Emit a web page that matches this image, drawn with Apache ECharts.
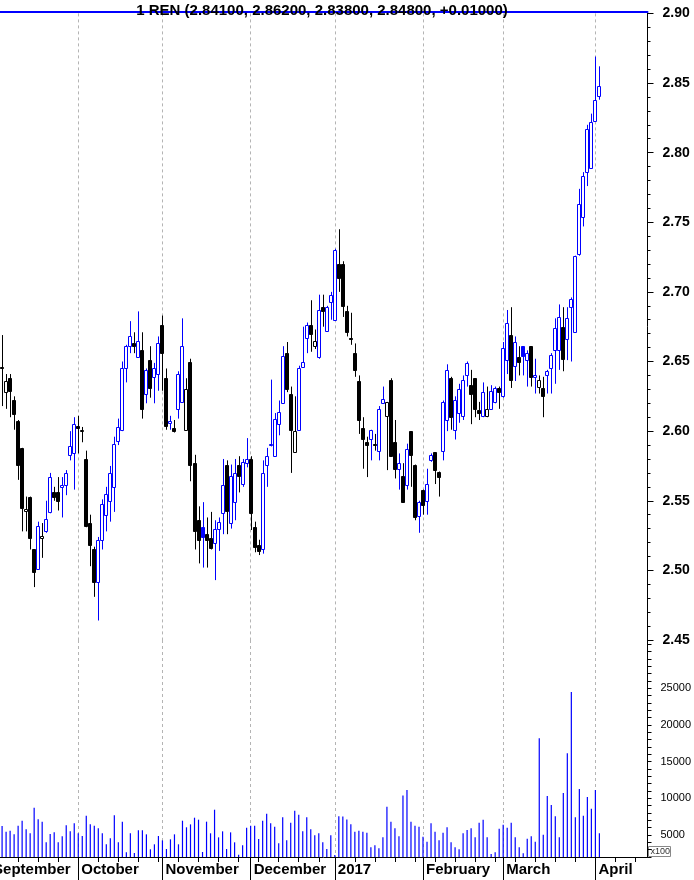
<!DOCTYPE html>
<html><head><meta charset="utf-8">
<script src="https://cdn.jsdelivr.net/npm/echarts@6/dist/echarts.min.js"></script>
<style>html,body{margin:0;padding:0;background:#fff}#c{width:694px;height:880px}</style>
</head><body><div id="c"></div>
<script>
// trading days per month (categories), incl. projected blank days in April
const sepDays=[1,2,5,6,7,8,9,12,13,14,15,16,19,20,21,22,23,26,27,28,29,30];
const octDays=[3,4,5,6,7,10,11,12,13,14,17,18,19,20,21,24,25,26,27,28,31];
const novDays=[1,2,3,4,7,8,9,10,11,14,15,16,17,18,21,22,23,24,25,28,29,30];
const decDays=[1,2,5,6,7,8,9,12,13,14,15,16,19,20,21,22,23,27,28,29,30];
const janDays=[2,3,4,5,6,9,10,11,12,13,16,17,18,19,20,23,24,25,26,27,30,31];
const febDays=[1,2,3,6,7,8,9,10,13,14,15,16,17,20,21,22,23,24,27,28];
const marDays=[1,2,3,6,7,8,9,10,13,14,15,16,17,20,21,22,23,24,27,28,29,30,31];
const aprDays=[3,4,5,6,7,10,11,12,13,14,17,18,19,20];
const monthLabels=['September','October','November','December','2017','February','March','April'];

const open=[
2.640,2.650,2.648,2.646,2.628,2.638,2.622,2.607,2.588,2.543,
2.553,2.515,2.501,2.523,2.528,2.542,2.556,2.556,2.560,2.561,
2.583,2.584,2.604,2.600,2.580,2.534,2.515,2.492,2.522,2.540,
2.550,2.560,2.593,2.601,2.645,2.661,2.663,2.653,2.658,2.627,
2.651,2.639,2.641,2.676,2.638,2.606,2.602,2.616,2.621,2.601,
2.650,2.577,2.536,2.531,2.526,2.523,2.520,2.530,2.541,2.576,
2.534,2.549,2.576,2.562,2.577,2.580,2.531,2.518,2.515,2.576,
2.590,2.582,2.605,2.620,2.656,2.627,2.585,2.601,2.646,2.667,
2.676,2.661,2.653,2.689,2.672,2.693,2.680,2.720,2.720,2.686,
2.667,2.656,2.636,2.602,2.592,2.594,2.591,2.586,2.620,2.611,
2.637,2.592,2.573,2.568,2.561,2.600,2.576,2.539,2.558,2.550,
2.579,2.585,2.571,2.586,2.608,2.638,2.601,2.613,2.611,2.640,
2.633,2.638,2.615,2.611,2.611,2.616,2.621,2.631,2.625,2.651,
2.669,2.647,2.653,2.661,2.651,2.661,2.639,2.632,2.631,2.640,
2.645,2.658,2.658,2.675,2.666,2.689,2.671,2.727,2.754,2.786,
2.789,2.823,2.841];
const high=[
2.655,2.660,2.668,2.669,2.641,2.641,2.625,2.608,2.588,2.553,
2.553,2.515,2.535,2.534,2.550,2.570,2.560,2.567,2.567,2.572,
2.600,2.610,2.611,2.603,2.586,2.540,2.517,2.524,2.551,2.560,
2.575,2.596,2.609,2.650,2.662,2.679,2.671,2.686,2.671,2.645,
2.661,2.649,2.668,2.683,2.645,2.611,2.608,2.643,2.681,2.638,
2.652,2.583,2.546,2.549,2.538,2.542,2.536,2.538,2.580,2.579,
2.576,2.580,2.582,2.580,2.595,2.582,2.535,2.522,2.579,2.588,
2.637,2.613,2.622,2.661,2.664,2.632,2.625,2.647,2.675,2.678,
2.694,2.673,2.698,2.698,2.690,2.700,2.731,2.745,2.722,2.690,
2.685,2.663,2.640,2.610,2.596,2.601,2.598,2.618,2.632,2.621,
2.638,2.608,2.584,2.577,2.591,2.600,2.576,2.550,2.558,2.573,
2.584,2.585,2.571,2.622,2.648,2.639,2.625,2.634,2.640,2.650,
2.644,2.638,2.621,2.635,2.632,2.633,2.632,2.632,2.664,2.687,
2.689,2.668,2.661,2.661,2.658,2.661,2.652,2.640,2.639,2.644,
2.656,2.681,2.691,2.689,2.689,2.696,2.726,2.774,2.786,2.820,
2.828,2.869,2.862];
const low=[
2.635,2.640,2.640,2.618,2.616,2.610,2.601,2.565,2.528,2.528,
2.515,2.488,2.501,2.509,2.527,2.541,2.550,2.543,2.538,2.554,
2.579,2.558,2.584,2.592,2.531,2.503,2.481,2.464,2.515,2.528,
2.535,2.542,2.590,2.600,2.635,2.656,2.656,2.653,2.609,2.620,
2.624,2.620,2.629,2.629,2.601,2.601,2.599,2.609,2.621,2.601,
2.564,2.515,2.505,2.502,2.502,2.515,2.493,2.514,2.526,2.526,
2.530,2.536,2.556,2.560,2.574,2.529,2.513,2.511,2.512,2.560,
2.589,2.582,2.597,2.620,2.628,2.570,2.585,2.601,2.646,2.656,
2.657,2.659,2.652,2.675,2.672,2.680,2.680,2.700,2.682,2.668,
2.662,2.639,2.598,2.573,2.567,2.579,2.586,2.579,2.620,2.572,
2.582,2.566,2.558,2.549,2.558,2.560,2.536,2.527,2.540,2.540,
2.578,2.562,2.553,2.579,2.600,2.601,2.594,2.606,2.608,2.632,
2.605,2.610,2.608,2.610,2.610,2.616,2.620,2.616,2.624,2.641,
2.631,2.636,2.640,2.640,2.632,2.632,2.627,2.627,2.610,2.627,
2.627,2.634,2.644,2.643,2.651,2.650,2.671,2.726,2.747,2.776,
2.789,2.823,2.838];
const close=[
2.650,2.648,2.655,2.646,2.636,2.629,2.612,2.576,2.545,2.544,
2.523,2.499,2.532,2.525,2.537,2.567,2.553,2.550,2.561,2.570,
2.589,2.605,2.602,2.601,2.532,2.518,2.492,2.522,2.548,2.555,
2.570,2.591,2.603,2.645,2.661,2.668,2.661,2.665,2.616,2.644,
2.631,2.645,2.663,2.656,2.604,2.607,2.600,2.641,2.661,2.630,
2.576,2.528,2.522,2.524,2.522,2.516,2.530,2.535,2.561,2.543,
2.568,2.570,2.568,2.578,2.580,2.541,2.517,2.514,2.570,2.582,
2.591,2.609,2.614,2.654,2.630,2.601,2.600,2.645,2.650,2.676,
2.670,2.665,2.687,2.686,2.689,2.698,2.730,2.710,2.690,2.671,
2.666,2.644,2.608,2.594,2.590,2.601,2.590,2.616,2.623,2.621,
2.582,2.573,2.577,2.549,2.587,2.583,2.538,2.549,2.547,2.562,
2.583,2.572,2.567,2.621,2.644,2.610,2.622,2.630,2.637,2.649,
2.627,2.616,2.613,2.628,2.616,2.629,2.631,2.628,2.660,2.678,
2.637,2.664,2.650,2.654,2.656,2.639,2.640,2.637,2.625,2.643,
2.655,2.674,2.682,2.652,2.681,2.695,2.726,2.763,2.783,2.817,
2.822,2.838,2.848];
const volume=[
4000,5000,5500,6230,5450,5590,5090,6270,6950,5770,
5230,8730,7140,6820,4000,5140,5360,4000,4820,6320,
5500,6590,5230,4860,7640,6450,6270,5910,5230,3730,
4550,7680,4000,6820,2640,5230,2540,5640,5640,5090,
3050,3730,4860,4270,3090,4410,5090,3730,6950,6050,
6450,7360,7090,2680,6820,5230,8450,4680,5500,3090,
5360,4000,2300,3590,6000,6270,6270,4450,6950,7910,
6590,6140,3860,7410,4270,6680,8320,7770,5500,7410,
5770,4950,5230,4000,3090,4950,2270,7550,7520,7110,
6450,5450,5590,5450,5320,3320,3590,3180,4680,8860,
6820,5910,4820,10370,11140,6820,6270,6140,4770,4090,
6590,5450,4270,5320,6050,4000,3320,3050,5230,5680,
5910,4680,6680,7090,4680,2410,2640,5860,6410,6000,
6680,4680,3320,2500,4500,4820,4090,18190,5050,10320,
9090,7550,4680,10730,16140,24510,7410,11270,7640,10180,
8590,11140,5230];

const months=[[2016,9,sepDays],[2016,10,octDays],[2016,11,novDays],[2016,12,decDays],
  [2017,1,janDays],[2017,2,febDays],[2017,3,marDays],[2017,4,aprDays]];
const dates=[], monthStart={}, weekStart={}, dow=[];
months.forEach(function(m,mi){
  m[2].forEach(function(d,k){
    const idx=dates.length;
    const s=m[0]+'-'+String(m[1]).padStart(2,'0')+'-'+String(d).padStart(2,'0');
    dates.push(s);
    dow.push(new Date(Date.UTC(m[0],m[1]-1,d)).getUTCDay());
    if(k===0) monthStart[idx]=monthLabels[mi];
  });
});
for(let i=0;i<dates.length;i++){ if(i===0||dow[i]<dow[i-1]) weekStart[i]=true; }

const candles=open.map(function(o,i){
  return [i,o,close[i],low[i],high[i], i>0?close[i-1]:o];
});
const volData=volume.map(function(v,i){return [i,v];});

const n=close.length-1;
const fmt=function(v){return v.toFixed(5);};
const chg=close[n]-close[n-1];
const titleText='1 REN ('+fmt(open[n])+', '+fmt(high[n])+', '+fmt(low[n])+', '+fmt(close[n])+', '+(chg>=0?'+':'')+fmt(chg)+')';

const FONT="'Liberation Sans', Arial, sans-serif";
const isMonth=function(i){return monthStart[i]!==undefined;};
const isWeek=function(i){return !!weekStart[i];};
const split={show:true,interval:isMonth,lineStyle:{color:'#b4b4b4',width:1,type:[3,3]}};

function renderCandle(params, api){
  const i=api.value(0), o=api.value(1), c=api.value(2), l=api.value(3), h=api.value(4), pc=api.value(5);
  const pO=api.coord([i,o]), pC=api.coord([i,c]), pL=api.coord([i,l]), pH=api.coord([i,h]);
  const k=Math.round(pO[0]);
  const color=c>pc?'#0000ff':'#000000';
  const hollow=c>o;
  const top=Math.round(Math.min(pO[1],pC[1]))+0.5, bot=Math.round(Math.max(pO[1],pC[1]))+0.5;
  return {type:'group',children:[
    {type:'line',shape:{x1:k+0.5,y1:pH[1],x2:k+0.5,y2:pL[1]},style:{stroke:color,lineWidth:1}},
    {type:'rect',shape:{x:k-1.5,y:top,width:3,height:Math.max(bot-top,1)},
     style:{fill:hollow?'#ffffff':color,stroke:color,lineWidth:1}}
  ]};
}

const chart=echarts.init(document.getElementById('c'),null,{renderer:'canvas'});
chart.setOption({
  animation:false,
  backgroundColor:'#ffffff',
  textStyle:{fontFamily:FONT},
  title:{text:titleText,left:322,top:3,textAlign:'center',padding:0,
    textStyle:{fontSize:15,fontWeight:'bold',color:'#000',fontFamily:FONT}},
  grid:[
    {left:-9.94,right:46.5,top:13.4,height:626.6,containLabel:false,outerBoundsMode:'none'},
    {left:-9.94,right:46.5,top:640,height:217,containLabel:false,outerBoundsMode:'none'}
  ],
  xAxis:[
    {gridIndex:0,type:'category',data:dates,boundaryGap:false,position:'top',offset:2,
      axisLine:{show:true,lineStyle:{color:'#0000ff',width:2}},axisTick:{show:false},axisLabel:{show:false},
      splitLine:split},
    {gridIndex:1,type:'category',data:dates,boundaryGap:false,position:'bottom',
      axisLine:{show:true,lineStyle:{color:'#000',width:1}},
      axisTick:{show:true,interval:isWeek,length:5,lineStyle:{color:'#000'}},
      axisLabel:{show:false},splitLine:split},
    {gridIndex:1,type:'category',data:dates,boundaryGap:false,position:'bottom',
      axisLine:{show:false},
      axisTick:{show:true,interval:isMonth,length:23,lineStyle:{color:'#000'}},
      axisLabel:{show:true,interval:isMonth,align:'left',padding:[0,0,0,3],margin:5,
        fontSize:15,fontWeight:'bold',color:'#000',fontFamily:FONT,
        formatter:function(v,i){return monthStart[i]||'';}},
      splitLine:{show:false}}
  ],
  yAxis:[
    {gridIndex:0,type:'value',position:'right',min:2.45,max:2.90,interval:0.05,scale:true,
      axisLine:{show:true,lineStyle:{color:'#000'}},
      axisTick:{show:true,length:6,lineStyle:{color:'#000'}},
      minorTick:{show:true,splitNumber:5,length:3,lineStyle:{color:'#000'}},
      axisLabel:{margin:15,fontSize:14,fontWeight:'bold',color:'#000',fontFamily:FONT,
        formatter:function(v){return v.toFixed(2);}},
      splitLine:{show:false}},
    {gridIndex:1,type:'value',position:'right',min:2000,max:31591,interval:1000,
      axisLine:{show:true,lineStyle:{color:'#000'}},
      axisTick:{show:true,length:4,lineStyle:{color:'#000'}},
      axisLabel:{margin:13,fontSize:11,color:'#000',fontFamily:FONT,
        formatter:function(v){return (Math.round(v)%5000===0&&v<=25000)?String(Math.round(v)):'';}},
      splitLine:{show:false}}
  ],
  graphic:[
    {type:'group',left:648,top:846,children:[
      {type:'rect',shape:{x:0,y:0,width:22,height:10},style:{fill:'#fff',stroke:'#888',lineWidth:1}},
      {type:'text',style:{text:'x100',x:2,y:1,fontSize:9,fill:'#333',fontFamily:FONT}}
    ]}
  ],
  series:[
    {type:'custom',xAxisIndex:0,yAxisIndex:0,renderItem:renderCandle,
      encode:{x:0,y:[1,2,3,4]},data:candles,clip:true},
    {type:'bar',xAxisIndex:1,yAxisIndex:1,data:volData,barWidth:1.2,
      itemStyle:{color:'#0000ff'},encode:{x:0,y:1}}
  ]
});
</script></body></html>
